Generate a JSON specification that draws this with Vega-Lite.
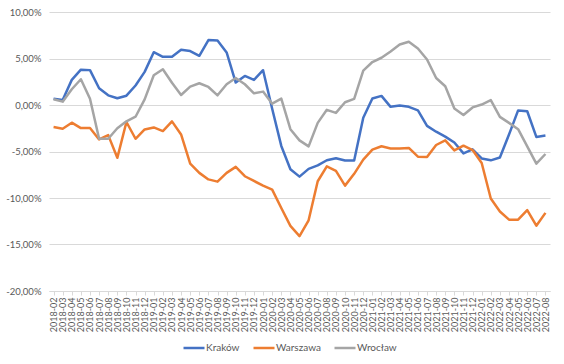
{
  "$schema": "https://vega.github.io/schema/vega-lite/v6.json",
  "autosize": {"type": "none"},
  "padding": {"left": 49, "top": 12, "right": 14, "bottom": 73},
  "width": 501,
  "height": 279,
  "background": "white",
  "config": {
    "locale": {"number": {"decimal": ",", "thousands": " ", "grouping": [3], "currency": ["", " zł"], "minus": "-"}},
    "view": {"stroke": null},
    "font": "Lato"
  },
  "data": {
    "values": [
      {"m": "2018-02", "Kraków": 0.0068, "Warszawa": -0.0237, "Wrocław": 0.0062},
      {"m": "2018-03", "Kraków": 0.0054, "Warszawa": -0.0255, "Wrocław": 0.0036},
      {"m": "2018-04", "Kraków": 0.027, "Warszawa": -0.019, "Wrocław": 0.0169},
      {"m": "2018-05", "Kraków": 0.038, "Warszawa": -0.0248, "Wrocław": 0.0277},
      {"m": "2018-06", "Kraków": 0.0375, "Warszawa": -0.0248, "Wrocław": 0.0068},
      {"m": "2018-07", "Kraków": 0.018, "Warszawa": -0.037, "Wrocław": -0.0363},
      {"m": "2018-08", "Kraków": 0.0104, "Warszawa": -0.0324, "Wrocław": -0.0363},
      {"m": "2018-09", "Kraków": 0.0072, "Warszawa": -0.0568, "Wrocław": -0.025},
      {"m": "2018-10", "Kraków": 0.01, "Warszawa": -0.0183, "Wrocław": -0.0176},
      {"m": "2018-11", "Kraków": 0.021, "Warszawa": -0.0363, "Wrocław": -0.0126},
      {"m": "2018-12", "Kraków": 0.0356, "Warszawa": -0.0263, "Wrocław": 0.006},
      {"m": "2019-01", "Kraków": 0.0568, "Warszawa": -0.0241, "Wrocław": 0.032},
      {"m": "2019-02", "Kraków": 0.0518, "Warszawa": -0.028, "Wrocław": 0.0385},
      {"m": "2019-03", "Kraków": 0.0518, "Warszawa": -0.0176, "Wrocław": 0.024},
      {"m": "2019-04", "Kraków": 0.0594, "Warszawa": -0.0317, "Wrocław": 0.0108},
      {"m": "2019-05", "Kraków": 0.058, "Warszawa": -0.063, "Wrocław": 0.0198},
      {"m": "2019-06", "Kraków": 0.0529, "Warszawa": -0.073, "Wrocław": 0.0234},
      {"m": "2019-07", "Kraków": 0.0698, "Warszawa": -0.08, "Wrocław": 0.0194},
      {"m": "2019-08", "Kraków": 0.0694, "Warszawa": -0.0824, "Wrocław": 0.0104},
      {"m": "2019-09", "Kraków": 0.0565, "Warszawa": -0.073, "Wrocław": 0.0223},
      {"m": "2019-10", "Kraków": 0.0241, "Warszawa": -0.0665, "Wrocław": 0.0291},
      {"m": "2019-11", "Kraków": 0.0313, "Warszawa": -0.0766, "Wrocław": 0.0223},
      {"m": "2019-12", "Kraków": 0.027, "Warszawa": -0.0817, "Wrocław": 0.0126},
      {"m": "2020-01", "Kraków": 0.0374, "Warszawa": -0.0867, "Wrocław": 0.0144},
      {"m": "2020-02", "Kraków": -0.004, "Warszawa": -0.091, "Wrocław": 0.0014},
      {"m": "2020-03", "Kraków": -0.044, "Warszawa": -0.1108, "Wrocław": 0.0068},
      {"m": "2020-04", "Kraków": -0.069, "Warszawa": -0.13, "Wrocław": -0.026},
      {"m": "2020-05", "Kraków": -0.077, "Warszawa": -0.141, "Wrocław": -0.038},
      {"m": "2020-06", "Kraków": -0.0687, "Warszawa": -0.124, "Wrocław": -0.0445},
      {"m": "2020-07", "Kraków": -0.065, "Warszawa": -0.082, "Wrocław": -0.0192},
      {"m": "2020-08", "Kraków": -0.0594, "Warszawa": -0.066, "Wrocław": -0.0052},
      {"m": "2020-09", "Kraków": -0.0572, "Warszawa": -0.0708, "Wrocław": -0.0085},
      {"m": "2020-10", "Kraków": -0.0597, "Warszawa": -0.0867, "Wrocław": 0.003},
      {"m": "2020-11", "Kraków": -0.0597, "Warszawa": -0.074, "Wrocław": 0.0066},
      {"m": "2020-12", "Kraków": -0.0138, "Warszawa": -0.0588, "Wrocław": 0.037},
      {"m": "2021-01", "Kraków": 0.007, "Warszawa": -0.048, "Wrocław": 0.0462},
      {"m": "2021-02", "Kraków": 0.0098, "Warszawa": -0.0444, "Wrocław": 0.0508},
      {"m": "2021-03", "Kraków": -0.002, "Warszawa": -0.0468, "Wrocław": 0.0575},
      {"m": "2021-04", "Kraków": -0.0006, "Warszawa": -0.0468, "Wrocław": 0.065},
      {"m": "2021-05", "Kraków": -0.002, "Warszawa": -0.0462, "Wrocław": 0.068},
      {"m": "2021-06", "Kraków": -0.0057, "Warszawa": -0.0556, "Wrocław": 0.0608},
      {"m": "2021-07", "Kraków": -0.0225, "Warszawa": -0.056, "Wrocław": 0.049},
      {"m": "2021-08", "Kraków": -0.0287, "Warszawa": -0.043, "Wrocław": 0.029},
      {"m": "2021-09", "Kraków": -0.034, "Warszawa": -0.038, "Wrocław": 0.0202},
      {"m": "2021-10", "Kraków": -0.0403, "Warszawa": -0.0488, "Wrocław": -0.0037},
      {"m": "2021-11", "Kraków": -0.052, "Warszawa": -0.0437, "Wrocław": -0.0108},
      {"m": "2021-12", "Kraków": -0.0477, "Warszawa": -0.0484, "Wrocław": -0.0026},
      {"m": "2022-01", "Kraków": -0.0575, "Warszawa": -0.0623, "Wrocław": 0.0005},
      {"m": "2022-02", "Kraków": -0.0595, "Warszawa": -0.1005, "Wrocław": 0.0052},
      {"m": "2022-03", "Kraków": -0.0565, "Warszawa": -0.1145, "Wrocław": -0.0128},
      {"m": "2022-04", "Kraków": -0.0318, "Warszawa": -0.1233, "Wrocław": -0.0192},
      {"m": "2022-05", "Kraków": -0.0058, "Warszawa": -0.1233, "Wrocław": -0.026},
      {"m": "2022-06", "Kraków": -0.0067, "Warszawa": -0.113, "Wrocław": -0.0444},
      {"m": "2022-07", "Kraków": -0.0343, "Warszawa": -0.1298, "Wrocław": -0.063},
      {"m": "2022-08", "Kraków": -0.0329, "Warszawa": -0.116, "Wrocław": -0.0527}
    ]
  },
  "transform": [
    {"fold": ["Kraków", "Warszawa", "Wrocław"], "as": ["city", "v"]}
  ],
  "mark": {"type": "line", "strokeWidth": 2.5, "strokeJoin": "round"},
  "encoding": {
    "x": {
      "field": "m",
      "type": "ordinal",
      "scale": {"type": "point", "padding": 0.5},
      "axis": {
        "title": null,
        "labelAngle": -90,
        "labelFontSize": 9,
        "labelColor": "#595959",
        "labelPadding": 2,
        "tickSize": 4,
        "tickColor": "#D9D9D9",
        "domainColor": "#D9D9D9",
        "grid": false,
        "labelOverlap": false
      }
    },
    "y": {
      "field": "v",
      "type": "quantitative",
      "scale": {"domain": [-0.2, 0.1], "nice": false, "zero": false},
      "axis": {
        "title": null,
        "values": [-0.2, -0.15, -0.1, -0.05, 0, 0.05, 0.1],
        "format": ".2%",
        "labelFontSize": 9.5,
        "labelColor": "#595959",
        "labelPadding": 8,
        "ticks": false,
        "domain": false,
        "gridColor": "#D9D9D9",
        "gridWidth": 1
      }
    },
    "color": {
      "field": "city",
      "type": "nominal",
      "scale": {"domain": ["Kraków", "Warszawa", "Wrocław"], "range": ["#4472C4", "#ED7D31", "#A5A5A5"]},
      "legend": {
        "title": null,
        "orient": "none",
        "legendX": 133,
        "legendY": 324,
        "direction": "horizontal",
        "symbolType": "stroke",
        "symbolSize": 441,
        "symbolStrokeWidth": 2.5,
        "labelFontSize": 10,
        "labelColor": "#595959",
        "labelOffset": 0,
        "columnPadding": 8
      }
    }
  }
}
